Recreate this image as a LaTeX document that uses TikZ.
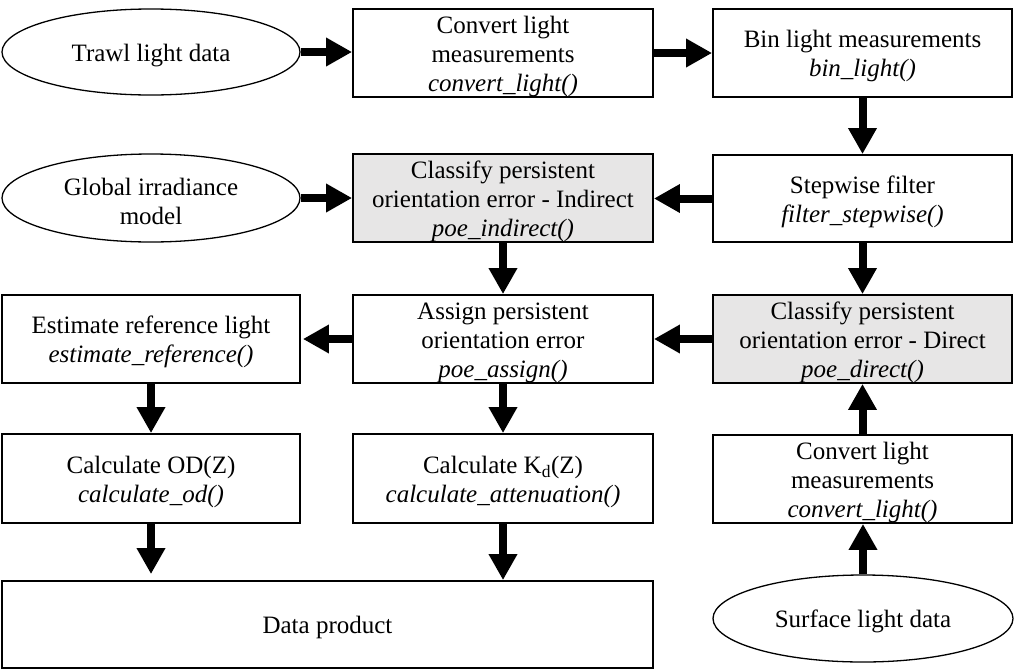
\documentclass[tikz,border=0pt]{standalone}
\usepackage{fontspec}
\setmainfont{Liberation Serif}
\usetikzlibrary{arrows.meta,shapes.geometric}
\definecolor{boxgray}{HTML}{E7E6E6}
\newcommand{\lowstrut}{\rule{0pt}{24pt}}
\tikzset{
  procbox/.style={draw=black, line width=1.8pt, rectangle, inner sep=0pt, align=center,
    minimum width=300pt, minimum height=88pt, font=\fontsize{25}{28.75}\selectfont},
  graybox/.style={procbox, fill=boxgray},
  databox/.style={draw=black, line width=1.3pt, ellipse, inner sep=0pt, align=center,
    minimum width=298pt, minimum height=86pt, font=\fontsize{25}{28.75}\selectfont},
  flow/.style={line width=8pt, -{Triangle[length=26pt, width=27pt]}},
}
\begin{document}
\begin{tikzpicture}[x=1pt, y=1pt]
\useasboundingbox (0,0) rectangle (1015,-670);
% row 1
\node[databox] (trawl) at (151,-52) {\lowstrut Trawl light data};
\node[procbox] (conv1) at (503,-53) {\lowstrut Convert light\\measurements\\\textit{convert\_light()}};
\node[procbox, minimum width=299pt] (bin) at (862.5,-53) {\lowstrut Bin light measurements\\\textit{bin\_light()}};
% row 2
\node[databox, minimum height=88pt] (global) at (151,-198) {\lowstrut Global irradiance\\model};
\node[graybox] (indirect) at (503,-198) {\lowstrut Classify persistent\\orientation error - Indirect\\\textit{poe\_indirect()}};
\node[procbox, minimum width=299pt, minimum height=87pt] (step) at (862.5,-198.5) {\lowstrut Stepwise filter\\\textit{filter\_stepwise()}};
% row 3
\node[procbox, minimum width=298pt] (estimate) at (151,-339) {\lowstrut Estimate reference light\\\textit{estimate\_reference()}};
\node[procbox] (assign) at (503,-339) {\lowstrut Assign persistent\\orientation error\\\textit{poe\_assign()}};
\node[graybox, minimum width=299pt] (direct) at (862.5,-339) {\lowstrut Classify persistent\\orientation error - Direct\\\textit{poe\_direct()}};
% row 4
\node[procbox, minimum width=298pt, minimum height=89pt] (od) at (151,-478.5) {\lowstrut Calculate OD(Z)\\\textit{calculate\_od()}};
\node[procbox, minimum height=89pt] (kd) at (503,-478.5) {\lowstrut Calculate K\textsubscript{d}(Z)\\\textit{calculate\_attenuation()}};
\node[procbox, minimum width=299pt] (conv2) at (862.5,-479) {\lowstrut Convert light\\measurements\\\textit{convert\_light()}};
% row 5
\node[procbox, minimum width=651pt, minimum height=87pt] (data) at (327.5,-624.5) {\lowstrut Data product};
\node[databox, minimum width=300pt, minimum height=87pt] (surface) at (863,-618.5) {\lowstrut Surface light data};
% connectors
\draw[flow] (trawl.east) -- (trawl.east -| conv1.west);
\draw[flow] (conv1.east) -- (conv1.east -| bin.west);
\draw[flow] (bin.south) -- (bin.south |- step.north);
\draw[flow] (global.east) -- (global.east -| indirect.west);
\draw[flow] (step.west) -- (step.west -| indirect.east);
\draw[flow] (indirect.south) -- (indirect.south |- assign.north);
\draw[flow] (step.south) -- (step.south |- direct.north);
\draw[flow] (direct.west) -- (direct.west -| assign.east);
\draw[flow, shorten >=2pt] (assign.west) -- (assign.west -| estimate.east);
\draw[flow] (estimate.south) -- (estimate.south |- od.north);
\draw[flow] (assign.south) -- (assign.south |- kd.north);
\draw[flow, shorten >=6pt] (od.south) -- (od.south |- data.north);
\draw[flow] (kd.south) -- (kd.south |- data.north);
\draw[flow] (conv2.north) -- (conv2.north |- direct.south);
\draw[flow] (surface.north) -- (surface.north |- conv2.south);
\end{tikzpicture}
\end{document}
